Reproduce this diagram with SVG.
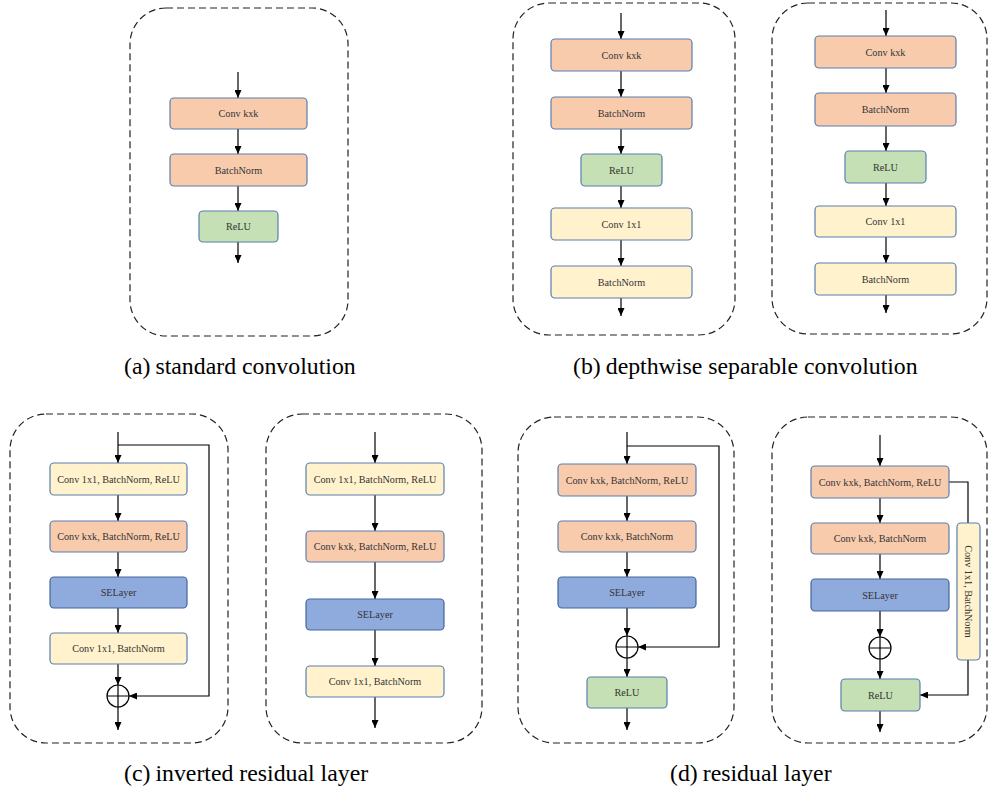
<svg xmlns="http://www.w3.org/2000/svg" width="988" height="791" viewBox="0 0 988 791">
  <defs>
    <marker id="arr" viewBox="0 0 8 7" refX="8" refY="3.5" markerWidth="8" markerHeight="7" markerUnits="userSpaceOnUse" orient="auto">
      <path d="M0,0 L8,3.5 L0,7 z" fill="#000"/>
    </marker>
    <style>
      .frame { fill: none; stroke: #222; stroke-width: 1.2; stroke-dasharray: 7 4; }
      .box { stroke: #5a7fae; stroke-width: 1.2; }
      .conv { fill: #f8cbad; }
      .pw { fill: #fff2cc; }
      .act { fill: #c5e0b4; }
      .se { fill: #8faadc; stroke: #44679a; }
      .lbl { font-family: "Liberation Serif", "Times New Roman", serif; font-size: 10.2px; fill: #333; text-anchor: middle; dominant-baseline: central; }
      .cap { font-family: "Liberation Serif", "Times New Roman", serif; font-size: 23.8px; fill: #000; }
      .ln { fill: none; stroke: #000; stroke-width: 1.2; }
      .sum { fill: #fff; stroke: #000; stroke-width: 1.2; }
    </style>
  </defs>

  <!-- panel frames -->
  <g id="frames">
    <rect class="frame" x="130" y="8" width="218" height="328" rx="36"/>
    <rect class="frame" x="513" y="3" width="222" height="332" rx="36"/>
    <rect class="frame" x="772" y="3" width="215" height="331" rx="36"/>
    <rect class="frame" x="10" y="414" width="218" height="329" rx="36"/>
    <rect class="frame" x="266" y="414" width="216" height="329" rx="36"/>
    <rect class="frame" x="518" y="417" width="216" height="326" rx="36"/>
    <rect class="frame" x="772" y="417" width="215" height="326" rx="36"/>
  </g>

  <!-- connectors -->
  <g id="connectors" class="ln" marker-end="url(#arr)">
    <!-- (a) -->
    <line x1="238" y1="72" x2="238" y2="98"/>
    <line x1="238" y1="129" x2="238" y2="154"/>
    <line x1="238" y1="186" x2="238" y2="211"/>
    <line x1="238" y1="242" x2="238" y2="263"/>
    <!-- (b) left -->
    <line x1="621" y1="13" x2="621" y2="39"/>
    <line x1="621" y1="71" x2="621" y2="97"/>
    <line x1="621" y1="129" x2="621" y2="154"/>
    <line x1="621" y1="186" x2="621" y2="208"/>
    <line x1="621" y1="240" x2="621" y2="266"/>
    <line x1="621" y1="298" x2="621" y2="316"/>
    <!-- (b) right -->
    <line x1="886" y1="10" x2="886" y2="36"/>
    <line x1="886" y1="68" x2="886" y2="93"/>
    <line x1="886" y1="126" x2="886" y2="151"/>
    <line x1="886" y1="183" x2="886" y2="206"/>
    <line x1="886" y1="237" x2="886" y2="263"/>
    <line x1="886" y1="295" x2="886" y2="313"/>
    <!-- (c) left -->
    <line x1="118" y1="432" x2="118" y2="463"/>
    <line x1="118" y1="495" x2="118" y2="521"/>
    <line x1="118" y1="552" x2="118" y2="577"/>
    <line x1="118" y1="608" x2="118" y2="633"/>
    <line x1="118" y1="664" x2="118" y2="685"/>
    <line x1="118" y1="707" x2="118" y2="730"/>
    <polyline points="118,445 209,445 209,696 129,696"/>
    <!-- (c) right -->
    <line x1="375" y1="432" x2="375" y2="463"/>
    <line x1="375" y1="495" x2="375" y2="531"/>
    <line x1="375" y1="562" x2="375" y2="599"/>
    <line x1="375" y1="630" x2="375" y2="666"/>
    <line x1="375" y1="697" x2="375" y2="728"/>
    <!-- (d) left -->
    <line x1="627" y1="432" x2="627" y2="464"/>
    <line x1="627" y1="496" x2="627" y2="521"/>
    <line x1="627" y1="552" x2="627" y2="577"/>
    <line x1="627" y1="608" x2="627" y2="636"/>
    <line x1="627" y1="658" x2="627" y2="677"/>
    <line x1="627" y1="708" x2="627" y2="730"/>
    <polyline points="627,446 719,446 719,647 638,647"/>
    <!-- (d) right -->
    <line x1="880" y1="435" x2="880" y2="466"/>
    <line x1="880" y1="498" x2="880" y2="523"/>
    <line x1="880" y1="554" x2="880" y2="579"/>
    <line x1="880" y1="611" x2="880" y2="637"/>
    <line x1="880" y1="659" x2="880" y2="679"/>
    <line x1="880" y1="711" x2="880" y2="732"/>
    <polyline points="949,482 968,482 968,523" marker-end="none"/>
    <polyline points="968,660 968,695 920,695"/>
  </g>

  <!-- (a) standard convolution -->
  <g id="a-conv"><rect class="box conv" x="170" y="98" width="137" height="31" rx="4"/><text class="lbl" x="238.5" y="113.5">Conv kxk</text></g>
  <g id="a-bn"><rect class="box conv" x="170" y="154" width="137" height="32" rx="4"/><text class="lbl" x="238.5" y="170">BatchNorm</text></g>
  <g id="a-relu"><rect class="box act" x="199" y="211" width="79" height="31" rx="4"/><text class="lbl" x="238.5" y="226.5">ReLU</text></g>

  <!-- (b) depthwise separable, left -->
  <g id="b1-conv"><rect class="box conv" x="551" y="39" width="141" height="32" rx="4"/><text class="lbl" x="621.5" y="55">Conv kxk</text></g>
  <g id="b1-bn"><rect class="box conv" x="551" y="97" width="141" height="32" rx="4"/><text class="lbl" x="621.5" y="113">BatchNorm</text></g>
  <g id="b1-relu"><rect class="box act" x="581" y="154" width="81" height="32" rx="4"/><text class="lbl" x="621.5" y="170">ReLU</text></g>
  <g id="b1-pw"><rect class="box pw" x="551" y="208" width="141" height="32" rx="4"/><text class="lbl" x="621.5" y="224">Conv 1x1</text></g>
  <g id="b1-bn2"><rect class="box pw" x="551" y="266" width="141" height="32" rx="4"/><text class="lbl" x="621.5" y="282">BatchNorm</text></g>

  <!-- (b) depthwise separable, right -->
  <g id="b2-conv"><rect class="box conv" x="815" y="36" width="141" height="32" rx="4"/><text class="lbl" x="885.5" y="52">Conv kxk</text></g>
  <g id="b2-bn"><rect class="box conv" x="815" y="93" width="141" height="33" rx="4"/><text class="lbl" x="885.5" y="109.5">BatchNorm</text></g>
  <g id="b2-relu"><rect class="box act" x="845" y="151" width="81" height="32" rx="4"/><text class="lbl" x="885.5" y="167">ReLU</text></g>
  <g id="b2-pw"><rect class="box pw" x="815" y="206" width="141" height="31" rx="4"/><text class="lbl" x="885.5" y="221.5">Conv 1x1</text></g>
  <g id="b2-bn2"><rect class="box pw" x="815" y="263" width="141" height="32" rx="4"/><text class="lbl" x="885.5" y="279">BatchNorm</text></g>

  <!-- (c) inverted residual, left -->
  <g id="c1-expand"><rect class="box pw" x="50" y="463" width="137" height="32" rx="4"/><text class="lbl" x="118.5" y="479">Conv 1x1, BatchNorm, ReLU</text></g>
  <g id="c1-dw"><rect class="box conv" x="50" y="521" width="137" height="31" rx="4"/><text class="lbl" x="118.5" y="536.5">Conv kxk, BatchNorm, ReLU</text></g>
  <g id="c1-se"><rect class="box se" x="50" y="577" width="137" height="31" rx="4"/><text class="lbl" x="118.5" y="592.5">SELayer</text></g>
  <g id="c1-proj"><rect class="box pw" x="50" y="633" width="137" height="31" rx="4"/><text class="lbl" x="118.5" y="648.5">Conv 1x1, BatchNorm</text></g>
  <g id="c1-add"><circle class="sum" cx="118" cy="696" r="11"/><path class="ln" d="M107,696 H129 M118,685 V707"/></g>

  <!-- (c) inverted residual, right -->
  <g id="c2-expand"><rect class="box pw" x="306" y="463" width="138" height="32" rx="4"/><text class="lbl" x="375" y="479">Conv 1x1, BatchNorm, ReLU</text></g>
  <g id="c2-dw"><rect class="box conv" x="306" y="531" width="138" height="31" rx="4"/><text class="lbl" x="375" y="546.5">Conv kxk, BatchNorm, ReLU</text></g>
  <g id="c2-se"><rect class="box se" x="306" y="599" width="138" height="31" rx="4"/><text class="lbl" x="375" y="614.5">SELayer</text></g>
  <g id="c2-proj"><rect class="box pw" x="306" y="666" width="138" height="31" rx="4"/><text class="lbl" x="375" y="681.5">Conv 1x1, BatchNorm</text></g>

  <!-- (d) residual, left -->
  <g id="d1-conv1"><rect class="box conv" x="558" y="464" width="138" height="32" rx="4"/><text class="lbl" x="627" y="480">Conv kxk, BatchNorm, ReLU</text></g>
  <g id="d1-conv2"><rect class="box conv" x="558" y="521" width="138" height="31" rx="4"/><text class="lbl" x="627" y="536.5">Conv kxk, BatchNorm</text></g>
  <g id="d1-se"><rect class="box se" x="558" y="577" width="138" height="31" rx="4"/><text class="lbl" x="627" y="592.5">SELayer</text></g>
  <g id="d1-add"><circle class="sum" cx="627" cy="647" r="11"/><path class="ln" d="M616,647 H638 M627,636 V658"/></g>
  <g id="d1-relu"><rect class="box act" x="587" y="677" width="80" height="31" rx="4"/><text class="lbl" x="627" y="692.5">ReLU</text></g>

  <!-- (d) residual, right -->
  <g id="d2-conv1"><rect class="box conv" x="811" y="466" width="138" height="32" rx="4"/><text class="lbl" x="880" y="482">Conv kxk, BatchNorm, ReLU</text></g>
  <g id="d2-conv2"><rect class="box conv" x="811" y="523" width="138" height="31" rx="4"/><text class="lbl" x="880" y="538.5">Conv kxk, BatchNorm</text></g>
  <g id="d2-se"><rect class="box se" x="811" y="579" width="138" height="32" rx="4"/><text class="lbl" x="880" y="595">SELayer</text></g>
  <g id="d2-add"><circle class="sum" cx="880" cy="648" r="11"/><path class="ln" d="M869,648 H891 M880,637 V659"/></g>
  <g id="d2-relu"><rect class="box act" x="841" y="679" width="79" height="32" rx="4"/><text class="lbl" x="880.5" y="695">ReLU</text></g>
  <g id="d2-shortcut"><rect class="box pw" x="957" y="523" width="23" height="137" rx="4"/><text class="lbl" transform="translate(968.5,591.5) rotate(90)" x="0" y="0">Conv 1x1, BatchNorm</text></g>

  <!-- captions -->
  <g id="captions">
    <text class="cap" x="124" y="374">(a)<tspan dx="5">standard convolution</tspan></text>
    <text class="cap" x="573" y="374">(b)<tspan dx="5">depthwise separable convolution</tspan></text>
    <text class="cap" x="124" y="781">(c)<tspan dx="5">inverted residual layer</tspan></text>
    <text class="cap" x="670" y="781">(d)<tspan dx="5">residual layer</tspan></text>
  </g>
</svg>
